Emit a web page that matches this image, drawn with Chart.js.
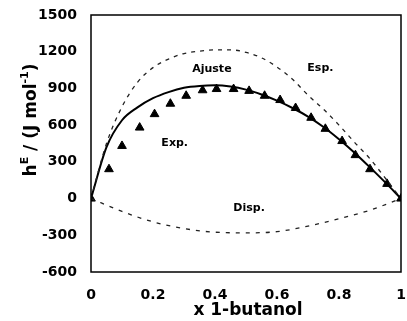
<!DOCTYPE html>
<html>
<head>
<meta charset="utf-8">
<script src="https://cdn.jsdelivr.net/npm/chart.js@4"></script>
<style>
  html, body { margin: 0; padding: 0; background: #fff; overflow: hidden; }
  #wrap { width: 407px; height: 321px; position: relative; }
</style>
</head>
<body>
<div id="wrap"><canvas id="chart"></canvas></div>
<script>
// experimental points (triangles)
const expX = [0, 0.058, 0.10, 0.157, 0.205, 0.256, 0.307, 0.36, 0.405, 0.46, 0.51, 0.56, 0.61, 0.66, 0.71, 0.756, 0.81, 0.853, 0.90, 0.955, 1.0];
const expY = [0, 240, 430, 580, 690, 775, 840, 885, 895, 895, 880, 840, 805, 740, 660, 570, 470, 355, 240, 120, 0];

// fitted curve (solid), Esp. (upper dashed), Disp. (lower dashed)
const curveX = [0, 0.05, 0.10, 0.15, 0.20, 0.25, 0.30, 0.35, 0.40, 0.45, 0.50, 0.55, 0.60, 0.65, 0.70, 0.75, 0.80, 0.85, 0.90, 0.95, 1.0];
const ajusteY = [0, 420, 640, 745, 820, 870, 905, 920, 925, 915, 890, 850, 800, 740, 670, 585, 485, 375, 255, 130, 0];
const espY = [0, 450, 750, 950, 1070, 1140, 1185, 1205, 1215, 1215, 1195, 1150, 1075, 975, 845, 730, 600, 460, 325, 165, 0];
const dispX = [0, 0.1, 0.2, 0.3, 0.4, 0.5, 0.6, 0.7, 0.8, 0.9, 1.0];
const dispY = [0, -105, -190, -245, -275, -280, -270, -225, -165, -95, 0];

const xTicks = [0, 0.2, 0.4, 0.6, 0.8, 1];
const yTicks = [-600, -300, 0, 300, 600, 900, 1200, 1500];

// curve labels placed in data coordinates
const notes = [
    {text: "Ajuste", x: 0.39, y: 1055},
    {text: "Esp.", x: 0.74, y: 1065},
    {text: "Exp.", x: 0.27, y: 455},
    {text: "Disp.", x: 0.51, y: -75}
];

const pts = (xs, ys) => xs.map((x, i) => ({x: x, y: ys[i]}));

const FONT = "'DejaVu Sans', sans-serif";

const decor = {
    id: "decor",
    afterDatasetsDraw(chart) {
        const ctx = chart.ctx;
        const a = chart.chartArea;
        const sx = chart.scales.x, sy = chart.scales.y;
        ctx.save();
        // frame
        ctx.strokeStyle = "#000";
        ctx.lineWidth = 1.5;
        ctx.strokeRect(a.left, a.top, a.right - a.left, a.bottom - a.top);

        // curve labels
        ctx.fillStyle = "#000";
        ctx.font = "bold 11px " + FONT;
        ctx.textAlign = "center";
        ctx.textBaseline = "middle";
        notes.forEach(n => ctx.fillText(n.text, sx.getPixelForValue(n.x), sy.getPixelForValue(n.y)));

        // y axis title with superscripts
        const parts = [
            {t: "h", f: 17, up: 0},
            {t: "E", f: 11, up: 8},
            {t: " / (J mol", f: 17, up: 0},
            {t: "-1", f: 11, up: 8},
            {t: ")", f: 17, up: 0}
        ];
        let total = 0;
        parts.forEach(p => { ctx.font = "bold " + p.f + "px " + FONT; p.w = ctx.measureText(p.t).width; total += p.w; });
        ctx.translate(36, 120);
        ctx.rotate(-Math.PI / 2);
        ctx.textAlign = "left";
        ctx.textBaseline = "alphabetic";
        let cx = -total / 2;
        parts.forEach(p => {
            ctx.font = "bold " + p.f + "px " + FONT;
            ctx.fillText(p.t, cx, -p.up);
            cx += p.w;
        });
        ctx.restore();

        // x axis title
        ctx.save();
        ctx.fillStyle = "#000";
        ctx.font = "bold 17px " + FONT;
        ctx.textAlign = "center";
        ctx.textBaseline = "middle";
        ctx.fillText("x 1-butanol", 248, 311);
        ctx.restore();
    }
};

new Chart(document.getElementById("chart"), {
    type: "line",
    data: {
        datasets: [
            {
                label: "Esp.",
                data: pts(curveX, espY),
                borderColor: "#222",
                borderWidth: 1.3,
                borderDash: [4, 5],
                pointRadius: 0,
                cubicInterpolationMode: "monotone",
                fill: false
            },
            {
                label: "Disp.",
                data: pts(dispX, dispY),
                borderColor: "#222",
                borderWidth: 1.3,
                borderDash: [4, 6],
                pointRadius: 0,
                cubicInterpolationMode: "monotone",
                fill: false
            },
            {
                label: "Ajuste",
                data: pts(curveX, ajusteY),
                borderColor: "#000",
                borderWidth: 2,
                pointRadius: 0,
                cubicInterpolationMode: "monotone",
                fill: false
            },
            {
                label: "Exp.",
                data: pts(expX, expY),
                showLine: false,
                pointStyle: "triangle",
                pointRadius: 5,
                pointBackgroundColor: "#000",
                pointBorderColor: "#000",
                pointBorderWidth: 1
            }
        ]
    },
    options: {
        responsive: true,
        maintainAspectRatio: false,
        animation: false,
        layout: {padding: {top: 15, right: 4, left: 0, bottom: 0}},
        plugins: {
            legend: {display: false},
            tooltip: {enabled: false}
        },
        scales: {
            x: {
                type: "linear",
                min: 0,
                max: 1,
                afterBuildTicks: s => { s.ticks = xTicks.map(v => ({value: v})); },
                afterFit: s => { s.height = 49; s.paddingLeft = 0; s.paddingRight = 0; },
                grid: {display: false, drawTicks: false},
                border: {display: false},
                ticks: {
                    color: "#000",
                    padding: 15,
                    maxRotation: 0,
                    font: {family: FONT, size: 14, weight: "bold"},
                    callback: v => (v === 0 || v === 1) ? String(v) : v.toFixed(1)
                }
            },
            y: {
                type: "linear",
                min: -600,
                max: 1500,
                afterBuildTicks: s => { s.ticks = yTicks.map(v => ({value: v})); },
                afterFit: s => { s.width = 91; s.paddingTop = 0; s.paddingBottom = 0; },
                grid: {display: false, drawTicks: false},
                border: {display: false},
                ticks: {
                    color: "#000",
                    padding: 14,
                    font: {family: FONT, size: 14, weight: "bold"},
                    callback: v => String(v)
                }
            }
        }
    },
    plugins: [decor]
});
</script>
</body>
</html>
